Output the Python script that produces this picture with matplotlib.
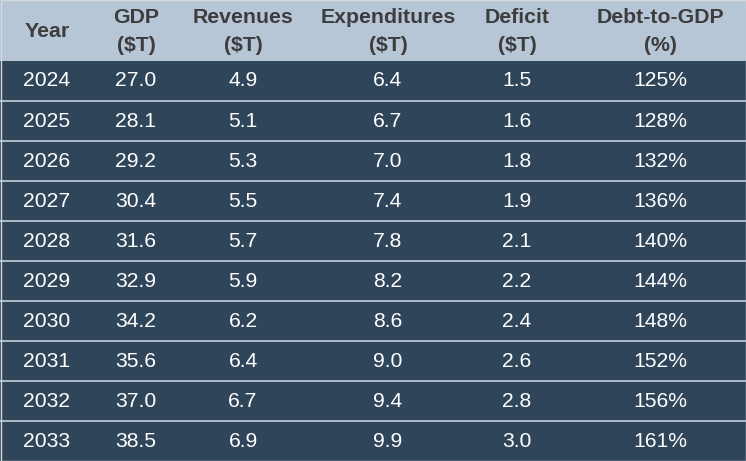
import matplotlib
matplotlib.use("Agg")
import matplotlib.pyplot as plt
from matplotlib.patches import Rectangle

headers = ["Year", "GDP\n($T)", "Revenues\n($T)", "Expenditures\n($T)", "Deficit\n($T)", "Debt-to-GDP\n(%)"]
years = ["2024", "2025", "2026", "2027", "2028", "2029", "2030", "2031", "2032", "2033"]
gdp = ["27.0", "28.1", "29.2", "30.4", "31.6", "32.9", "34.2", "35.6", "37.0", "38.5"]
revenues = ["4.9", "5.1", "5.3", "5.5", "5.7", "5.9", "6.2", "6.4", "6.7", "6.9"]
expenditures = ["6.4", "6.7", "7.0", "7.4", "7.8", "8.2", "8.6", "9.0", "9.4", "9.9"]
deficit = ["1.5", "1.6", "1.8", "1.9", "2.1", "2.2", "2.4", "2.6", "2.8", "3.0"]
debt_to_gdp = ["125%", "128%", "132%", "136%", "140%", "144%", "148%", "152%", "156%", "161%"]

columns = [years, gdp, revenues, expenditures, deficit, debt_to_gdp]

W, H = 746, 461
fig = plt.figure(figsize=(W / 100, H / 100), dpi=100)
ax = fig.add_axes([0, 0, 1, 1])
ax.set_xlim(0, W)
ax.set_ylim(H, 0)
ax.axis("off")

header_bg = "#b7c6d7"
body_bg = "#2f4559"
line_col = "#c3cfdc"
head_txt = "#3d3d3d"
fam = ["Liberation Sans", "DejaVu Sans"]

col_x = [47, 136, 243, 388, 517, 660]
header_h = 61
row_h = (H - header_h) / len(years)

ax.add_patch(Rectangle((0, 0), W, header_h, facecolor=header_bg, edgecolor="none"))
ax.add_patch(Rectangle((0, header_h), W, H - header_h, facecolor=body_bg, edgecolor="none"))

for i, h in enumerate(headers):
    ax.text(col_x[i], header_h / 2 + 1, h, ha="center", va="center", fontsize=15.3,
            fontweight="bold", color=head_txt, family=fam, linespacing=1.55)

for r in range(len(years)):
    yc = header_h + (r + 0.5) * row_h
    for c, col in enumerate(columns):
        ax.text(col_x[c], yc, col[r], ha="center", va="center", fontsize=15.2,
                color="white", family=fam)
    if r > 0:
        ax.plot([0, W], [header_h + r * row_h] * 2, color=line_col, lw=1.2)

ax.add_patch(Rectangle((0.5, 0.5), W - 1, H - 1, facecolor="none", edgecolor="#d4d9de", lw=1))

fig.savefig("out.png", dpi=100)
